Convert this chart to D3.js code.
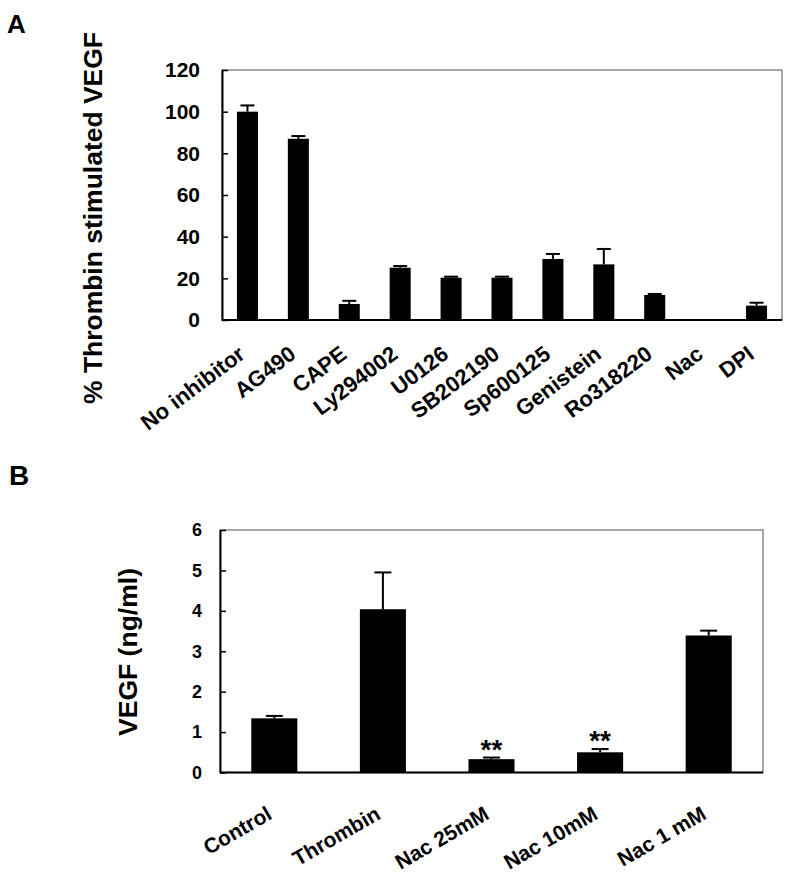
<!DOCTYPE html>
<html>
<head>
<meta charset="utf-8">
<script src="https://cdnjs.cloudflare.com/ajax/libs/d3/7.8.5/d3.min.js"></script>
<style>
  body { margin: 0; background: #fff; }
  svg { display: block; font-family: "Liberation Sans", Arial, sans-serif; }
</style>
</head>
<body>
<svg width="800" height="885"></svg>
<script>
// panel A
const inhibitors = ['No inhibitor', 'AG490', 'CAPE', 'Ly294002', 'U0126', 'SB202190',
  'Sp600125', 'Genistein', 'Ro318220', 'Nac', 'DPI'];
const pctVegf = [100, 87, 7.7, 25.1, 20.3, 20.3, 29.3, 26.7, 12, 0, 6.9];
const pctErr = [3, 1.3, 1.5, 0.8, 0.5, 0.5, 2.4, 7.4, 0.5, 0, 1.4];
const pctTicks = [0, 20, 40, 60, 80, 100, 120];

// panel B
const treatments = ['Control', 'Thrombin', 'Nac 25mM', 'Nac 10mM', 'Nac 1 mM'];
const vegfConc = [1.34, 4.04, 0.33, 0.5, 3.39];
const vegfErr = [0.06, 0.91, 0.04, 0.08, 0.12];
const vegfStars = ['', '', '**', '**', ''];
const vegfTicks = [0, 1, 2, 3, 4, 5, 6];

const svg = d3.select('svg');

function drawPanel(opt) {
  const rows = opt.cats.map((c, i) => ({ cat: c, value: opt.values[i], err: opt.errs[i] }));

  const x = d3.scaleBand()
    .domain(opt.cats)
    .range([opt.left, opt.right])
    .paddingInner(opt.pad)
    .paddingOuter(opt.pad / 2);
  const y = d3.scaleLinear()
    .domain([0, opt.max])
    .range([opt.bottom, opt.top]);
  const cx = d => x(d.cat) + x.bandwidth() / 2;

  const g = svg.append('g');

  // grey frame (top / right)
  g.append('rect')
    .attr('x', opt.left)
    .attr('y', opt.top)
    .attr('width', opt.right - opt.left)
    .attr('height', opt.bottom - opt.top)
    .attr('fill', 'none')
    .attr('stroke', '#8a8a8a')
    .attr('stroke-width', 1.5);

  // bars
  g.selectAll('.bar')
    .data(rows.filter(d => d.value > 0))
    .enter()
    .append('rect')
    .attr('x', d => x(d.cat))
    .attr('y', d => y(d.value))
    .attr('width', x.bandwidth())
    .attr('height', d => opt.bottom - y(d.value))
    .attr('fill', '#000');

  // error bars (upper only)
  const eb = g.selectAll('.err')
    .data(rows.filter(d => d.err > 0))
    .enter()
    .append('g')
    .attr('stroke', '#000')
    .attr('stroke-width', 2);
  eb.append('line')
    .attr('x1', cx)
    .attr('x2', cx)
    .attr('y1', d => y(d.value))
    .attr('y2', d => y(d.value + d.err));
  eb.append('line')
    .attr('x1', d => cx(d) - opt.cap / 2)
    .attr('x2', d => cx(d) + opt.cap / 2)
    .attr('y1', d => y(d.value + d.err))
    .attr('y2', d => y(d.value + d.err));

  // y axis
  const ya = g.append('g')
    .attr('transform', `translate(${opt.left},0)`)
    .call(d3.axisLeft(y)
      .tickValues(opt.ticks)
      .tickFormat(d3.format('d'))
      .tickSizeInner(-6)
      .tickSizeOuter(0)
      .tickPadding(opt.tickPad));
  ya.select('.domain').attr('stroke', '#000').attr('stroke-width', 2);
  ya.selectAll('.tick line').attr('stroke', '#000').attr('stroke-width', 1.5);
  ya.selectAll('.tick text')
    .attr('font-family', '"Liberation Sans", Arial, sans-serif')
    .attr('font-weight', 'bold')
    .attr('font-size', opt.tickFont)
    .attr('fill', '#000');

  // baseline
  g.append('line')
    .attr('x1', opt.left)
    .attr('x2', opt.right)
    .attr('y1', y(0))
    .attr('y2', y(0))
    .attr('stroke', '#000')
    .attr('stroke-width', 2);

  // category labels
  g.selectAll('.cat')
    .data(rows)
    .enter()
    .append('text')
    .attr('transform', d => `translate(${cx(d) - 1},${opt.labelY}) rotate(${-opt.angle})`)
    .attr('text-anchor', 'end')
    .attr('font-weight', 'bold')
    .attr('font-size', opt.catFont)
    .text(d => d.cat);

  // y title
  g.append('text')
    .attr('transform', `translate(${opt.titleX},${opt.titleY}) rotate(-90)`)
    .attr('text-anchor', 'middle')
    .attr('font-weight', 'bold')
    .attr('font-size', opt.titleFont)
    .attr('textLength', opt.titleLen)
    .attr('lengthAdjust', 'spacingAndGlyphs')
    .text(opt.title);

  // panel letter
  svg.append('text')
    .attr('x', opt.letterX)
    .attr('y', opt.letterY)
    .attr('font-weight', 'bold')
    .attr('font-size', opt.letterFont)
    .text(opt.letter);

  return { x, y, g, rows, cx };
}

drawPanel({
  cats: inhibitors, values: pctVegf, errs: pctErr, ticks: pctTicks, max: 120,
  left: 222, right: 782, top: 70, bottom: 320, pad: 0.587, cap: 14,
  tickPad: 22, tickFont: 21, labelY: 357, angle: 37, catFont: 22,
  title: '% Thrombin stimulated VEGF', titleX: 102, titleY: 218, titleFont: 26, titleLen: 372,
  letter: 'A', letterX: 7, letterY: 33, letterFont: 26
});

const pb = drawPanel({
  cats: treatments, values: vegfConc, errs: vegfErr, ticks: vegfTicks, max: 6,
  left: 220, right: 763, top: 530, bottom: 772.5, pad: 0.576, cap: 17,
  tickPad: 18, tickFont: 18, labelY: 818, angle: 30, catFont: 21,
  title: 'VEGF (ng/ml)', titleX: 137, titleY: 652, titleFont: 26, titleLen: 168,
  letter: 'B', letterX: 9, letterY: 485, letterFont: 28
});

// significance stars
pb.g.selectAll('.star')
  .data(pb.rows.map((d, i) => Object.assign({ star: vegfStars[i] }, d)))
  .enter()
  .append('text')
  .attr('x', pb.cx)
  .attr('y', d => pb.y(d.value + d.err) + 1)
  .attr('text-anchor', 'middle')
  .attr('font-weight', 'bold')
  .attr('font-size', 28)
  .text(d => d.star);
</script>
</body>
</html>
